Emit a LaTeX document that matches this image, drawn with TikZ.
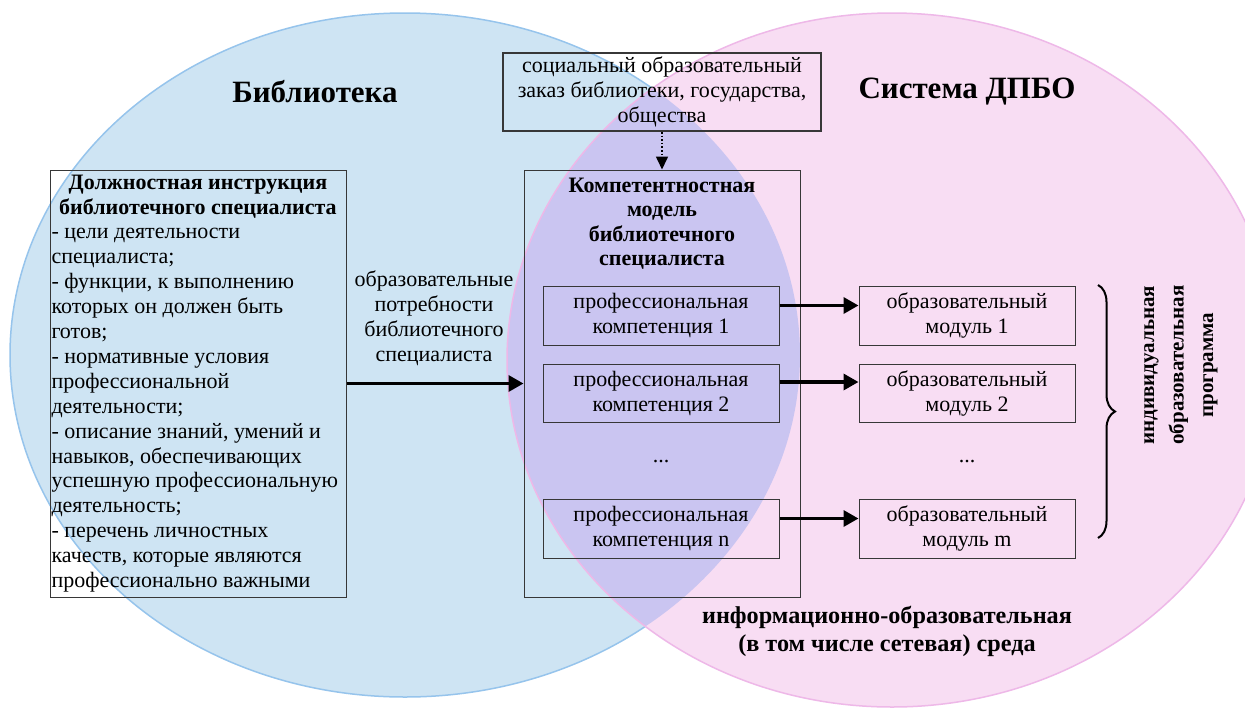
\documentclass[tikz,border=0pt]{standalone}
\usepackage{fontspec}
\setmainfont{Liberation Serif}
\usetikzlibrary{arrows.meta,decorations.pathreplacing}
\definecolor{bluefill}{RGB}{206,228,243}
\definecolor{blueline}{RGB}{150,196,236}
\definecolor{pinkfill}{RGB}{248,221,243}
\definecolor{pinkline}{RGB}{238,184,232}
\definecolor{overlapfill}{RGB}{202,197,241}
\definecolor{boxline}{RGB}{55,55,55}
\begin{document}
\begin{tikzpicture}[x=1pt,y=-1pt,
  box/.style={draw=boxline, line width=1pt, inner sep=0pt},
  txt/.style={font=\fontsize{22}{25}\selectfont, align=center, text=black},
  btxt/.style={font=\fontsize{22}{24.5}\selectfont\bfseries, align=center, text=black},
  arr/.style={line width=3.4pt, draw=black, -{Triangle[length=15pt,width=16pt]}},
  dotarr/.style={line width=1.6pt, dotted, draw=black, -{Triangle[length=13pt,width=12pt]}},
]
\useasboundingbox (0,0) rectangle (1245,710);
% circles
\fill[white] (0,0) rectangle (1245,710);
\fill[bluefill] (405,355) ellipse [x radius=395pt, y radius=342pt];
\draw[blueline, line width=1.5pt] (405,355) ellipse [x radius=395pt, y radius=342pt];
\fill[pinkfill] (892,360) ellipse [x radius=385pt, y radius=347pt];
\begin{scope}
  \clip (405,355) ellipse [x radius=395pt, y radius=342pt];
  \fill[overlapfill] (892,360) ellipse [x radius=385pt, y radius=347pt];
\end{scope}
\draw[pinkline, line width=1.5pt] (892,360) ellipse [x radius=385pt, y radius=347pt];

% titles
\node[font=\fontsize{31}{36}\selectfont\bfseries] (tlib) at (315,92) {Библиотека};
\node[font=\fontsize{31}{36}\selectfont\bfseries] (tsys) at (967,92) {Система ДПБО};

% top box
\node[box, line width=2pt, minimum width=318pt, minimum height=78pt, txt] (soc) at (662,92)
  {социальный образовательный\\заказ библиотеки, государства,\\общества};

% left box
\node[box, minimum width=296pt, minimum height=427pt, text=black] (instr) at (198,383.5)
  {\begin{minipage}{293pt}\fontsize{22}{24.9}\selectfont\centering\bfseries
   Должностная инструкция\\библиотечного специалиста\par
   \raggedright\mdseries
   - цели деятельности\\специалиста;\\- функции, к выполнению\\которых он должен быть\\готов;\\- нормативные условия\\профессиональной\\деятельности;\\- описание знаний, умений и\\навыков, обеспечивающих\\успешную профессиональную\\деятельность;\\- перечень личностных\\качеств, которые являются\\профессионально важными\end{minipage}};

% needs label
\node[txt, text width=172pt] (need) at (434,318)
  {образовательные\\потребности\\библиотечного\\специалиста};

% competence model box
\node[box, minimum width=276pt, minimum height=427pt] (cm) at (662,383.5) {};
\node[btxt] (cmtitle) at (662,223.5) {Компетентностная\\модель\\библиотечного\\специалиста};

\node[box, minimum width=236pt, minimum height=59pt, txt] (c1) at (661,315.5) {профессиональная\\компетенция 1};
\node[box, minimum width=236pt, minimum height=58pt, txt] (c2) at (661,393) {профессиональная\\компетенция 2};
\node[txt] (cdots) at (661,462) {...};
\node[box, minimum width=236pt, minimum height=59pt, txt] (cn) at (661,528.5) {профессиональная\\компетенция n};

\node[box, minimum width=216pt, minimum height=59pt, txt] (m1) at (967,315.5) {образовательный\\модуль 1};
\node[box, minimum width=216pt, minimum height=58pt, txt] (m2) at (967,393) {образовательный\\модуль 2};
\node[txt] (mdots) at (967,462) {...};
\node[box, minimum width=216pt, minimum height=59pt, txt] (mm) at (967,528.5) {образовательный\\модуль m};

% arrows
\draw[dotarr] (soc.south) -- (cm.north);
\draw[arr] (instr.east) -- (cm.west);
\draw[arr] ([yshift=10pt]c1.east) -- ([yshift=10pt]m1.west);
\draw[arr] ([yshift=11pt]c2.east) -- ([yshift=11pt]m2.west);
\draw[arr] ([yshift=10pt]cn.east) -- ([yshift=10pt]mm.west);

% brace
\coordinate (bt) at (1098,285);
\coordinate (bb) at (1098,538);
\draw[decorate, decoration={brace, amplitude=17pt}, line width=2pt] (bt) -- (bb);

\node[rotate=90, font=\fontsize{21}{29.5}\selectfont\bfseries, align=center] (prog) at (1181,365)
  {индивидуальная\\образовательная\\программа};

% bottom text
\node[font=\fontsize{24.2}{28}\selectfont\bfseries, align=center] (env) at (887,631)
  {информационно-образовательная\\(в том числе сетевая) среда};
\end{tikzpicture}
\end{document}
